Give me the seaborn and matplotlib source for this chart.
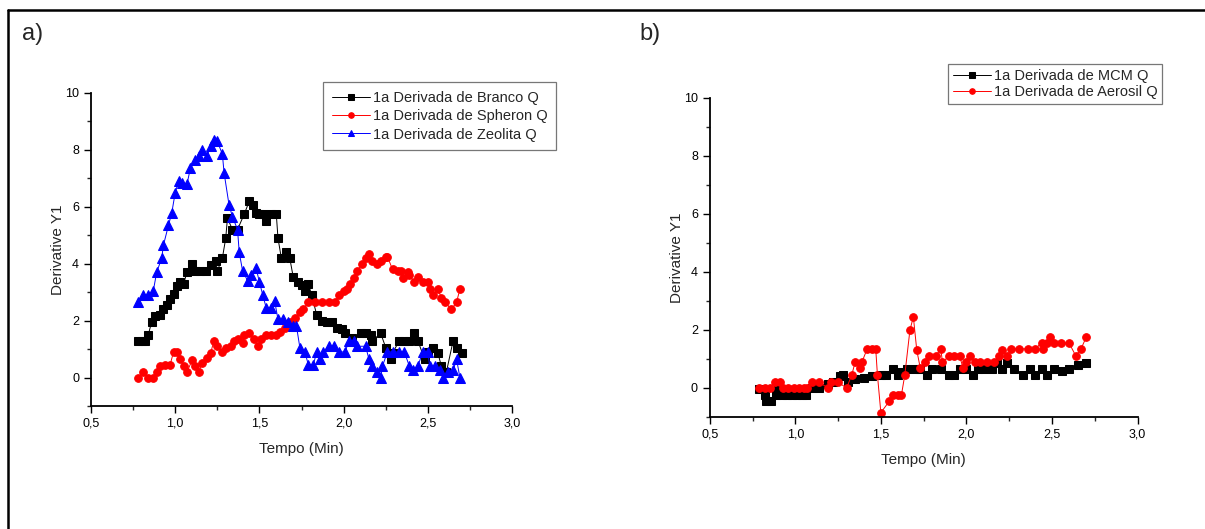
import numpy as np
import pandas as pd
import seaborn as sns
import matplotlib.pyplot as plt
from matplotlib.lines import Line2D
from matplotlib.ticker import MultipleLocator, FuncFormatter

# panel a) - Branco
branco_x = [0.78, 0.80, 0.82, 0.84, 0.86, 0.88, 0.91, 0.93, 0.95, 0.97, 0.99, 1.01, 1.03, 1.05,
            1.07, 1.10, 1.12, 1.15, 1.18, 1.21, 1.24, 1.25, 1.28, 1.30, 1.31, 1.34, 1.37, 1.41,
            1.44, 1.46, 1.48, 1.50, 1.52, 1.54, 1.57, 1.60, 1.61, 1.63, 1.66, 1.68, 1.70, 1.73,
            1.75, 1.77, 1.79, 1.81, 1.84, 1.87, 1.90, 1.93, 1.96, 1.99, 2.01, 2.05, 2.10, 2.13,
            2.16, 2.17, 2.22, 2.25, 2.28, 2.29, 2.33, 2.36, 2.39, 2.42, 2.44, 2.48, 2.50, 2.53,
            2.56, 2.58, 2.61, 2.65, 2.67, 2.70]
branco_y = [1.3, 1.3, 1.3, 1.5, 1.95, 2.15, 2.2, 2.4, 2.55, 2.75, 2.95, 3.2, 3.35, 3.3,
            3.7, 4.0, 3.75, 3.75, 3.75, 3.95, 4.1, 3.75, 4.2, 4.9, 5.6, 5.2, 5.2, 5.75,
            6.2, 6.05, 5.8, 5.75, 5.75, 5.5, 5.75, 5.75, 4.9, 4.2, 4.4, 4.2, 3.55, 3.35,
            3.25, 3.05, 3.3, 2.9, 2.2, 2.0, 1.95, 1.95, 1.75, 1.7, 1.55, 1.4, 1.55, 1.55,
            1.5, 1.3, 1.55, 1.05, 0.65, 0.85, 1.3, 1.3, 1.3, 1.55, 1.3, 0.65, 0.9, 1.05,
            0.85, 0.4, 0.2, 1.3, 1.05, 0.85]

# panel a) - Spheron
spheron_x = [0.78, 0.81, 0.84, 0.87, 0.89, 0.91, 0.94, 0.97, 0.99, 1.01, 1.03, 1.05, 1.07, 1.10,
             1.12, 1.14, 1.16, 1.19, 1.21, 1.23, 1.25, 1.28, 1.30, 1.33, 1.35, 1.37, 1.40, 1.41,
             1.44, 1.47, 1.49, 1.51, 1.54, 1.57, 1.60, 1.62, 1.65, 1.68, 1.71, 1.74, 1.76, 1.79,
             1.83, 1.87, 1.91, 1.95, 1.97, 2.00, 2.02, 2.04, 2.06, 2.08, 2.11, 2.13, 2.15, 2.17,
             2.20, 2.22, 2.25, 2.26, 2.29, 2.32, 2.34, 2.35, 2.38, 2.39, 2.42, 2.44, 2.47, 2.50,
             2.51, 2.53, 2.56, 2.58, 2.60, 2.64, 2.67, 2.69]
spheron_y = [0.0, 0.2, 0.0, 0.0, 0.2, 0.4, 0.45, 0.45, 0.9, 0.9, 0.65, 0.4, 0.2, 0.6,
             0.4, 0.2, 0.5, 0.7, 0.85, 1.3, 1.1, 0.9, 1.05, 1.1, 1.3, 1.35, 1.2, 1.5,
             1.55, 1.35, 1.1, 1.35, 1.5, 1.5, 1.5, 1.6, 1.75, 1.95, 2.1, 2.3, 2.4, 2.65,
             2.65, 2.65, 2.65, 2.65, 2.9, 3.05, 3.1, 3.3, 3.5, 3.75, 4.0, 4.2, 4.35, 4.1,
             4.0, 4.1, 4.25, 4.25, 3.8, 3.75, 3.75, 3.5, 3.7, 3.6, 3.35, 3.55, 3.35, 3.35,
             3.1, 2.9, 3.1, 2.8, 2.65, 2.4, 2.65, 3.1]

# panel a) - Zeolita
zeolita_x = [0.78, 0.81, 0.84, 0.87, 0.89, 0.92, 0.93, 0.96, 0.98, 1.00, 1.02, 1.04, 1.07, 1.09,
             1.12, 1.14, 1.16, 1.19, 1.21, 1.23, 1.25, 1.28, 1.29, 1.32, 1.34, 1.37, 1.38, 1.40,
             1.43, 1.45, 1.48, 1.50, 1.52, 1.54, 1.57, 1.59, 1.61, 1.64, 1.67, 1.70, 1.72, 1.74,
             1.77, 1.79, 1.82, 1.84, 1.86, 1.88, 1.91, 1.94, 1.97, 2.01, 2.03, 2.06, 2.08, 2.13,
             2.15, 2.17, 2.20, 2.22, 2.23, 2.26, 2.29, 2.33, 2.36, 2.39, 2.41, 2.44, 2.47, 2.50,
             2.51, 2.54, 2.57, 2.59, 2.62, 2.65, 2.67, 2.69]
zeolita_y = [2.65, 2.9, 2.9, 3.05, 3.7, 4.2, 4.65, 5.35, 5.8, 6.5, 6.9, 6.85, 6.8, 7.35,
             7.65, 7.8, 8.0, 7.8, 8.15, 8.35, 8.3, 7.85, 7.2, 6.05, 5.65, 5.2, 4.4, 3.75,
             3.4, 3.6, 3.85, 3.35, 2.9, 2.45, 2.45, 2.7, 2.05, 2.05, 1.95, 1.8, 1.8, 1.05,
             0.9, 0.45, 0.45, 0.9, 0.65, 0.9, 1.1, 1.1, 0.9, 0.9, 1.3, 1.3, 1.1, 1.1,
             0.65, 0.4, 0.2, 0.0, 0.4, 0.9, 0.9, 0.9, 0.9, 0.4, 0.25, 0.4, 0.9, 0.9,
             0.4, 0.4, 0.25, 0.0, 0.2, 0.25, 0.65, 0.0]

# panel b) - MCM
mcm_x = [0.79, 0.82, 0.83, 0.86, 0.89, 0.90, 0.92, 0.95, 0.98, 1.01, 1.04, 1.06, 1.10, 1.14,
         1.19, 1.22, 1.26, 1.28, 1.31, 1.35, 1.40, 1.45, 1.50, 1.53, 1.57, 1.60, 1.62, 1.65,
         1.70, 1.73, 1.77, 1.80, 1.85, 1.90, 1.93, 1.96, 2.00, 2.04, 2.07, 2.10, 2.15, 2.18,
         2.21, 2.24, 2.28, 2.33, 2.37, 2.40, 2.44, 2.47, 2.51, 2.56, 2.60, 2.65, 2.70]
mcm_y = [-0.05, -0.25, -0.45, -0.45, -0.25, -0.05, -0.25, -0.25, -0.25, -0.25, -0.25, -0.25, 0.0, 0.0,
         0.15, 0.2, 0.4, 0.45, 0.2, 0.3, 0.35, 0.4, 0.45, 0.45, 0.65, 0.45, 0.55, 0.65,
         0.65, 0.65, 0.45, 0.65, 0.65, 0.45, 0.45, 0.65, 0.65, 0.45, 0.65, 0.65, 0.65, 0.85,
         0.65, 0.85, 0.65, 0.45, 0.65, 0.45, 0.65, 0.45, 0.65, 0.6, 0.65, 0.8, 0.85]

# panel b) - Aerosil
aerosil_x = [0.79, 0.82, 0.85, 0.88, 0.91, 0.93, 0.96, 0.99, 1.02, 1.05, 1.07, 1.10, 1.14, 1.19,
             1.21, 1.25, 1.30, 1.33, 1.35, 1.38, 1.39, 1.42, 1.45, 1.47, 1.48, 1.50, 1.55, 1.57,
             1.60, 1.62, 1.64, 1.67, 1.69, 1.71, 1.73, 1.76, 1.78, 1.82, 1.85, 1.86, 1.90, 1.93,
             1.96, 1.98, 2.00, 2.02, 2.05, 2.08, 2.12, 2.16, 2.19, 2.21, 2.24, 2.26, 2.31, 2.36,
             2.40, 2.44, 2.45, 2.47, 2.49, 2.51, 2.55, 2.60, 2.64, 2.67, 2.70]
aerosil_y = [0.0, 0.0, 0.0, 0.2, 0.2, 0.0, 0.0, 0.0, 0.0, 0.0, 0.0, 0.2, 0.2, 0.0,
             0.2, 0.2, 0.0, 0.45, 0.9, 0.7, 0.9, 1.35, 1.35, 1.35, 0.45, -0.85, -0.45, -0.25,
             -0.25, -0.25, 0.45, 2.0, 2.45, 1.3, 0.7, 0.9, 1.1, 1.1, 1.35, 0.9, 1.1, 1.1,
             1.1, 0.7, 0.9, 1.1, 0.9, 0.9, 0.9, 0.9, 1.1, 1.3, 1.1, 1.35, 1.35, 1.35,
             1.35, 1.55, 1.35, 1.55, 1.75, 1.55, 1.55, 1.55, 1.1, 1.35, 1.75]

sns.set_style('ticks')
plt.rcParams['font.family'] = ['Liberation Sans', 'DejaVu Sans']

fig = plt.figure(figsize=(12.05, 5.29), dpi=100)
ax_a = fig.add_axes([0.0755, 0.2325, 0.3495, 0.5917])
ax_b = fig.add_axes([0.589, 0.2117, 0.355, 0.6033])


def draw(ax, x, y, color, marker, label, ms):
    sns.lineplot(x=x, y=y, ax=ax, color=color, marker=marker, markersize=ms,
                 markeredgecolor=color, linewidth=0.7, label=label,
                 estimator=None, sort=False)


draw(ax_a, branco_x, branco_y, 'black', 's', '1a Derivada de Branco Q', 5.5)
draw(ax_a, spheron_x, spheron_y, 'red', 'o', '1a Derivada de Spheron Q', 5.5)
draw(ax_a, zeolita_x, zeolita_y, 'blue', '^', '1a Derivada de Zeolita Q', 6.5)
draw(ax_b, mcm_x, mcm_y, 'black', 's', '1a Derivada de MCM Q', 5.5)
draw(ax_b, aerosil_x, aerosil_y, 'red', 'o', '1a Derivada de Aerosil Q', 5.5)

comma = FuncFormatter(lambda v, p: f'{v:.1f}'.replace('.', ','))
for ax in (ax_a, ax_b):
    ax.set_xlim(0.5, 3.0)
    ax.set_ylim(-1, 10)
    ax.xaxis.set_major_locator(MultipleLocator(0.5))
    ax.xaxis.set_minor_locator(MultipleLocator(0.25))
    ax.yaxis.set_major_locator(MultipleLocator(2))
    ax.yaxis.set_minor_locator(MultipleLocator(1))
    ax.xaxis.set_major_formatter(comma)
    ax.yaxis.set_major_formatter(FuncFormatter(lambda v, p: f'{v:.0f}'))
    ax.tick_params(which='major', direction='out', length=5, width=1, labelsize=9, colors='black')
    ax.tick_params(which='minor', direction='out', length=3, width=1)
    sns.despine(ax=ax)
    for s in ('left', 'bottom'):
        ax.spines[s].set_linewidth(1.3)
        ax.spines[s].set_color('black')
    ax.set_xlabel('Tempo (Min)', fontsize=11, labelpad=9)
    ax.set_ylabel('Derivative Y1', fontsize=11, labelpad=0)

leg_a = ax_a.legend(loc='upper left', bbox_to_anchor=(0.551, 1.035), fontsize=10.5,
                    frameon=True, fancybox=False, edgecolor='#555555', handlelength=2.6,
                    borderpad=0.6, labelspacing=0.3, handletextpad=0.2, borderaxespad=0)
leg_b = ax_b.legend(loc='upper left', bbox_to_anchor=(0.556, 1.105), fontsize=10.5,
                    frameon=True, fancybox=False, edgecolor='#555555', handlelength=2.6,
                    borderpad=0.35, labelspacing=0.1, handletextpad=0.2, borderaxespad=0)
for leg in (leg_a, leg_b):
    leg.get_frame().set_linewidth(0.9)
    for h in leg.legend_handles:
        h.set_markersize(4)

fig.text(0.018, 0.935, 'a)', fontsize=17, va='center')
fig.text(0.531, 0.935, 'b)', fontsize=17, va='center')

# outer frame (left and top edges)
fig.add_artist(Line2D([0.0066, 0.0066], [0.0, 0.981], color='black', linewidth=1.8))
fig.add_artist(Line2D([0.0066, 1.0], [0.981, 0.981], color='black', linewidth=1.8))

fig.savefig('out.png', dpi=100)
